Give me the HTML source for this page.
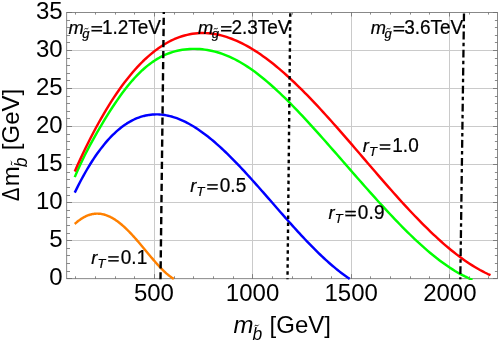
<!DOCTYPE html><html><head><meta charset="utf-8"><style>html,body{margin:0;padding:0;background:#fff;overflow:hidden}svg{display:block;will-change:transform}</style></head><body><svg width="498" height="343" viewBox="0 0 498 343">
<rect width="498" height="343" fill="#fff"/>
<path d="M154.50 12.50V278.70M252.50 12.50V278.70M351.50 12.50V278.70M449.50 12.50V278.70M66.70 240.50H497.50M66.70 202.50H497.50M66.70 164.50H497.50M66.70 126.50H497.50M66.70 88.50H497.50M66.70 50.50H497.50" stroke="#cacaca" stroke-width="1" fill="none"/>
<rect x="66.70" y="12.50" width="430.80" height="266.20" fill="none" stroke="#6c6c6c" stroke-width="0.8"/>
<clipPath id="c"><rect x="66.70" y="12.50" width="430.80" height="267.40"/></clipPath>
<g clip-path="url(#c)" fill="none" stroke-width="2.45" stroke-linejoin="round">
<path d="M74.75 223.98 L75.37 223.42 L76.00 222.87 L76.62 222.33 L77.24 221.82 L77.86 221.31 L78.49 220.83 L79.11 220.36 L79.73 219.90 L80.36 219.46 L80.98 219.04 L81.60 218.63 L82.23 218.24 L82.85 217.86 L83.47 217.50 L84.09 217.16 L84.72 216.83 L85.34 216.52 L85.96 216.23 L86.59 215.95 L87.21 215.68 L87.83 215.44 L88.46 215.20 L89.08 214.99 L89.70 214.79 L90.32 214.61 L90.95 214.44 L91.57 214.29 L92.19 214.15 L92.82 214.03 L93.44 213.93 L94.06 213.84 L94.68 213.77 L95.31 213.71 L95.93 213.67 L96.55 213.65 L97.18 213.64 L97.80 213.65 L98.42 213.67 L99.05 213.71 L99.67 213.76 L100.29 213.83 L100.91 213.91 L101.54 214.01 L102.16 214.12 L102.78 214.25 L103.41 214.39 L104.03 214.55 L104.65 214.73 L105.27 214.91 L105.90 215.12 L106.52 215.33 L107.14 215.56 L107.77 215.81 L108.39 216.07 L109.01 216.34 L109.64 216.63 L110.26 216.93 L110.88 217.24 L111.50 217.57 L112.13 217.91 L112.75 218.26 L113.37 218.63 L114.00 219.01 L114.62 219.40 L115.24 219.80 L115.87 220.22 L116.49 220.65 L117.11 221.09 L117.73 221.54 L118.36 222.01 L118.98 222.48 L119.60 222.97 L120.23 223.47 L120.85 223.98 L121.47 224.50 L122.09 225.03 L122.72 225.57 L123.34 226.12 L123.96 226.68 L124.59 227.25 L125.21 227.83 L125.83 228.42 L126.46 229.02 L127.08 229.63 L127.70 230.25 L128.32 230.87 L128.95 231.50 L129.57 232.14 L130.19 232.79 L130.82 233.45 L131.44 234.11 L132.06 234.78 L132.68 235.46 L133.31 236.14 L133.93 236.83 L134.55 237.52 L135.18 238.22 L135.80 238.93 L136.42 239.64 L137.05 240.36 L137.67 241.08 L138.29 241.80 L138.91 242.53 L139.54 243.26 L140.16 244.00 L140.78 244.73 L141.41 245.47 L142.03 246.22 L142.65 246.96 L143.28 247.71 L143.90 248.46 L144.52 249.21 L145.14 249.96 L145.77 250.71 L146.39 251.46 L147.01 252.21 L147.64 252.96 L148.26 253.71 L148.88 254.46 L149.50 255.20 L150.13 255.95 L150.75 256.69 L151.37 257.43 L152.00 258.16 L152.62 258.89 L153.24 259.62 L153.87 260.35 L154.49 261.07 L155.11 261.78 L155.73 262.49 L156.36 263.20 L156.98 263.89 L157.60 264.58 L158.23 265.27 L158.85 265.94 L159.47 266.61 L160.09 267.27 L160.72 267.93 L161.34 268.57 L161.96 269.20 L162.59 269.83 L163.21 270.44 L163.83 271.04 L164.46 271.63 L165.08 272.21 L165.70 272.78 L166.32 273.34 L166.95 273.88 L167.57 274.41 L168.19 274.92 L168.82 275.42 L169.44 275.91 L170.06 276.38 L170.69 276.84 L171.31 277.27 L171.93 277.70 L172.55 278.10 L173.18 278.49 L173.80 278.86" stroke="#ff8000"/>
<path d="M74.75 192.64 L76.48 189.09 L78.21 185.64 L79.94 182.28 L81.67 179.01 L83.40 175.83 L85.13 172.74 L86.85 169.74 L88.58 166.83 L90.31 164.01 L92.04 161.27 L93.77 158.62 L95.50 156.05 L97.23 153.57 L98.96 151.17 L100.69 148.86 L102.42 146.63 L104.15 144.48 L105.88 142.41 L107.61 140.42 L109.33 138.51 L111.06 136.69 L112.79 134.93 L114.52 133.26 L116.25 131.66 L117.98 130.14 L119.71 128.70 L121.44 127.33 L123.17 126.03 L124.90 124.81 L126.63 123.65 L128.36 122.57 L130.09 121.56 L131.82 120.63 L133.54 119.75 L135.27 118.95 L137.00 118.22 L138.73 117.55 L140.46 116.95 L142.19 116.41 L143.92 115.94 L145.65 115.54 L147.38 115.19 L149.11 114.91 L150.84 114.69 L152.57 114.53 L154.30 114.43 L156.02 114.39 L157.75 114.40 L159.48 114.48 L161.21 114.61 L162.94 114.80 L164.67 115.04 L166.40 115.34 L168.13 115.69 L169.86 116.09 L171.59 116.54 L173.32 117.05 L175.05 117.60 L176.78 118.21 L178.50 118.86 L180.23 119.56 L181.96 120.31 L183.69 121.10 L185.42 121.94 L187.15 122.83 L188.88 123.75 L190.61 124.72 L192.34 125.73 L194.07 126.79 L195.80 127.88 L197.53 129.01 L199.26 130.18 L200.98 131.39 L202.71 132.63 L204.44 133.91 L206.17 135.22 L207.90 136.57 L209.63 137.95 L211.36 139.37 L213.09 140.81 L214.82 142.29 L216.55 143.80 L218.28 145.33 L220.01 146.89 L221.74 148.48 L223.47 150.10 L225.19 151.74 L226.92 153.41 L228.65 155.10 L230.38 156.81 L232.11 158.54 L233.84 160.29 L235.57 162.07 L237.30 163.86 L239.03 165.67 L240.76 167.50 L242.49 169.34 L244.22 171.20 L245.95 173.08 L247.67 174.96 L249.40 176.86 L251.13 178.77 L252.86 180.70 L254.59 182.63 L256.32 184.57 L258.05 186.52 L259.78 188.47 L261.51 190.44 L263.24 192.40 L264.97 194.38 L266.70 196.35 L268.43 198.33 L270.15 200.31 L271.88 202.29 L273.61 204.28 L275.34 206.26 L277.07 208.24 L278.80 210.21 L280.53 212.19 L282.26 214.16 L283.99 216.12 L285.72 218.08 L287.45 220.04 L289.18 221.98 L290.91 223.92 L292.63 225.84 L294.36 227.76 L296.09 229.67 L297.82 231.56 L299.55 233.45 L301.28 235.31 L303.01 237.17 L304.74 239.01 L306.47 240.83 L308.20 242.64 L309.93 244.43 L311.66 246.20 L313.39 247.95 L315.12 249.68 L316.84 251.39 L318.57 253.08 L320.30 254.75 L322.03 256.39 L323.76 258.01 L325.49 259.61 L327.22 261.18 L328.95 262.72 L330.68 264.24 L332.41 265.72 L334.14 267.18 L335.87 268.61 L337.60 270.01 L339.32 271.38 L341.05 272.72 L342.78 274.02 L344.51 275.29 L346.24 276.53 L347.97 277.73 L349.70 278.89" stroke="#0000ff"/>
<path d="M74.75 177.14 L77.25 171.29 L79.75 165.73 L82.25 160.43 L84.76 155.33 L87.26 150.43 L89.76 145.68 L92.26 141.06 L94.76 136.56 L97.26 132.15 L99.77 127.84 L102.27 123.61 L104.77 119.46 L107.27 115.39 L109.77 111.41 L112.27 107.53 L114.78 103.74 L117.28 100.07 L119.78 96.50 L122.28 93.06 L124.78 89.74 L127.28 86.55 L129.78 83.49 L132.29 80.56 L134.79 77.77 L137.29 75.12 L139.79 72.60 L142.29 70.23 L144.79 67.99 L147.30 65.90 L149.80 63.94 L152.30 62.12 L154.80 60.44 L157.30 58.88 L159.80 57.46 L162.31 56.16 L164.81 54.98 L167.31 53.92 L169.81 52.98 L172.31 52.14 L174.81 51.40 L177.31 50.76 L179.82 50.22 L182.32 49.78 L184.82 49.42 L187.32 49.16 L189.82 48.97 L192.32 48.88 L194.83 48.86 L197.33 48.93 L199.83 49.07 L202.33 49.29 L204.83 49.60 L207.33 49.97 L209.83 50.43 L212.34 50.96 L214.84 51.57 L217.34 52.25 L219.84 53.02 L222.34 53.86 L224.84 54.79 L227.35 55.79 L229.85 56.87 L232.35 58.03 L234.85 59.27 L237.35 60.58 L239.85 61.98 L242.36 63.44 L244.86 64.98 L247.36 66.60 L249.86 68.28 L252.36 70.03 L254.86 71.85 L257.36 73.73 L259.87 75.67 L262.37 77.67 L264.87 79.73 L267.37 81.85 L269.87 84.01 L272.37 86.22 L274.88 88.49 L277.38 90.80 L279.88 93.15 L282.38 95.54 L284.88 97.98 L287.38 100.45 L289.89 102.96 L292.39 105.50 L294.89 108.07 L297.39 110.67 L299.89 113.31 L302.39 115.96 L304.89 118.65 L307.40 121.35 L309.90 124.08 L312.40 126.83 L314.90 129.59 L317.40 132.37 L319.90 135.17 L322.41 137.98 L324.91 140.80 L327.41 143.63 L329.91 146.47 L332.41 149.32 L334.91 152.18 L337.42 155.04 L339.92 157.90 L342.42 160.77 L344.92 163.63 L347.42 166.50 L349.92 169.36 L352.42 172.22 L354.93 175.08 L357.43 177.94 L359.93 180.78 L362.43 183.62 L364.93 186.46 L367.43 189.28 L369.94 192.09 L372.44 194.89 L374.94 197.67 L377.44 200.45 L379.94 203.20 L382.44 205.94 L384.94 208.66 L387.45 211.36 L389.95 214.03 L392.45 216.69 L394.95 219.32 L397.45 221.92 L399.95 224.50 L402.46 227.05 L404.96 229.56 L407.46 232.05 L409.96 234.50 L412.46 236.92 L414.96 239.30 L417.47 241.64 L419.97 243.94 L422.47 246.20 L424.97 248.41 L427.47 250.58 L429.97 252.71 L432.47 254.78 L434.98 256.80 L437.48 258.77 L439.98 260.69 L442.48 262.55 L444.98 264.35 L447.48 266.10 L449.99 267.78 L452.49 269.39 L454.99 270.95 L457.49 272.43 L459.99 273.84 L462.49 275.18 L465.00 276.45 L467.50 277.64 L470.00 278.76 L472.50 279.79" stroke="#00ff00"/>
<path d="M74.75 171.46 L77.36 165.60 L79.98 159.88 L82.59 154.29 L85.21 148.83 L87.82 143.50 L90.44 138.30 L93.05 133.23 L95.67 128.29 L98.28 123.49 L100.90 118.81 L103.51 114.27 L106.13 109.85 L108.74 105.57 L111.36 101.41 L113.97 97.38 L116.59 93.49 L119.20 89.72 L121.82 86.08 L124.43 82.56 L127.05 79.18 L129.66 75.92 L132.28 72.78 L134.89 69.77 L137.50 66.89 L140.12 64.13 L142.73 61.50 L145.35 58.99 L147.96 56.60 L150.58 54.33 L153.19 52.18 L155.81 50.15 L158.42 48.24 L161.04 46.45 L163.65 44.78 L166.27 43.22 L168.88 41.78 L171.50 40.45 L174.11 39.24 L176.73 38.14 L179.34 37.15 L181.96 36.27 L184.57 35.49 L187.19 34.83 L189.80 34.27 L192.42 33.82 L195.03 33.47 L197.64 33.23 L200.26 33.09 L202.87 33.04 L205.49 33.10 L208.10 33.25 L210.72 33.50 L213.33 33.84 L215.95 34.28 L218.56 34.81 L221.18 35.42 L223.79 36.13 L226.41 36.92 L229.02 37.79 L231.64 38.75 L234.25 39.79 L236.87 40.91 L239.48 42.11 L242.10 43.39 L244.71 44.74 L247.33 46.16 L249.94 47.66 L252.56 49.22 L255.17 50.86 L257.78 52.56 L260.40 54.33 L263.01 56.16 L265.63 58.05 L268.24 60.00 L270.86 62.01 L273.47 64.08 L276.09 66.21 L278.70 68.39 L281.32 70.62 L283.93 72.90 L286.55 75.23 L289.16 77.61 L291.78 80.03 L294.39 82.50 L297.01 85.01 L299.62 87.56 L302.24 90.15 L304.85 92.78 L307.47 95.44 L310.08 98.14 L312.69 100.87 L315.31 103.63 L317.92 106.42 L320.54 109.24 L323.15 112.09 L325.77 114.96 L328.38 117.86 L331.00 120.77 L333.61 123.71 L336.23 126.66 L338.84 129.63 L341.46 132.62 L344.07 135.61 L346.69 138.62 L349.30 141.65 L351.92 144.67 L354.53 147.71 L357.15 150.75 L359.76 153.80 L362.38 156.85 L364.99 159.89 L367.61 162.94 L370.22 165.98 L372.83 169.02 L375.45 172.06 L378.06 175.08 L380.68 178.10 L383.29 181.11 L385.91 184.10 L388.52 187.08 L391.14 190.04 L393.75 192.99 L396.37 195.92 L398.98 198.82 L401.60 201.71 L404.21 204.57 L406.83 207.41 L409.44 210.22 L412.06 213.00 L414.67 215.75 L417.29 218.47 L419.90 221.15 L422.52 223.80 L425.13 226.42 L427.75 228.99 L430.36 231.53 L432.97 234.02 L435.59 236.47 L438.20 238.88 L440.82 241.24 L443.43 243.56 L446.05 245.82 L448.66 248.03 L451.28 250.19 L453.89 252.30 L456.51 254.35 L459.12 256.34 L461.74 258.28 L464.35 260.15 L466.97 261.96 L469.58 263.71 L472.20 265.39 L474.81 267.00 L477.43 268.55 L480.04 270.03 L482.66 271.43 L485.27 272.76 L487.89 274.02 L490.50 275.20" stroke="#ff0000"/>
</g>
<g stroke="#000" stroke-width="2.4" fill="none">
<line x1="163.8" y1="12.00" x2="160.5" y2="279.30" stroke-dasharray="7.3 3.77" stroke-dashoffset="5.3"/>
<line x1="290.3" y1="12.20" x2="287.5" y2="279.30" stroke-dasharray="3.5 3.47" stroke-dashoffset="-1.15"/>
<line x1="464" y1="12.20" x2="460.3" y2="279.30" stroke-dasharray="7.8 3.3 3.5 3.45" stroke-dashoffset="-1.35" stroke-width="2.3"/>
</g>
<path d="M75.50 278.70v-2.40M75.50 12.50v2.10M95.50 278.70v-2.40M95.50 12.50v2.10M115.50 278.70v-2.40M115.50 12.50v2.10M134.50 278.70v-2.40M134.50 12.50v2.10M154.50 278.70v-4.60M154.50 12.50v4.00M174.50 278.70v-2.40M174.50 12.50v2.10M193.50 278.70v-2.40M193.50 12.50v2.10M213.50 278.70v-2.40M213.50 12.50v2.10M233.50 278.70v-2.40M233.50 12.50v2.10M252.50 278.70v-4.60M252.50 12.50v4.00M272.50 278.70v-2.40M272.50 12.50v2.10M292.50 278.70v-2.40M292.50 12.50v2.10M311.50 278.70v-2.40M311.50 12.50v2.10M331.50 278.70v-2.40M331.50 12.50v2.10M351.50 278.70v-4.60M351.50 12.50v4.00M370.50 278.70v-2.40M370.50 12.50v2.10M390.50 278.70v-2.40M390.50 12.50v2.10M410.50 278.70v-2.40M410.50 12.50v2.10M429.50 278.70v-2.40M429.50 12.50v2.10M449.50 278.70v-4.60M449.50 12.50v4.00M469.50 278.70v-2.40M469.50 12.50v2.10M488.50 278.70v-2.40M488.50 12.50v2.10M66.70 278.50h5.30M497.50 278.50h-4.50M66.70 271.50h3.30M497.50 271.50h-2.60M66.70 263.50h3.30M497.50 263.50h-2.60M66.70 255.50h3.30M497.50 255.50h-2.60M66.70 248.50h3.30M497.50 248.50h-2.60M66.70 240.50h5.30M497.50 240.50h-4.50M66.70 233.50h3.30M497.50 233.50h-2.60M66.70 225.50h3.30M497.50 225.50h-2.60M66.70 217.50h3.30M497.50 217.50h-2.60M66.70 210.50h3.30M497.50 210.50h-2.60M66.70 202.50h5.30M497.50 202.50h-4.50M66.70 195.50h3.30M497.50 195.50h-2.60M66.70 187.50h3.30M497.50 187.50h-2.60M66.70 179.50h3.30M497.50 179.50h-2.60M66.70 172.50h3.30M497.50 172.50h-2.60M66.70 164.50h5.30M497.50 164.50h-4.50M66.70 157.50h3.30M497.50 157.50h-2.60M66.70 149.50h3.30M497.50 149.50h-2.60M66.70 141.50h3.30M497.50 141.50h-2.60M66.70 134.50h3.30M497.50 134.50h-2.60M66.70 126.50h5.30M497.50 126.50h-4.50M66.70 118.50h3.30M497.50 118.50h-2.60M66.70 111.50h3.30M497.50 111.50h-2.60M66.70 103.50h3.30M497.50 103.50h-2.60M66.70 96.50h3.30M497.50 96.50h-2.60M66.70 88.50h5.30M497.50 88.50h-4.50M66.70 80.50h3.30M497.50 80.50h-2.60M66.70 73.50h3.30M497.50 73.50h-2.60M66.70 65.50h3.30M497.50 65.50h-2.60M66.70 58.50h3.30M497.50 58.50h-2.60M66.70 50.50h5.30M497.50 50.50h-4.50M66.70 42.50h3.30M497.50 42.50h-2.60M66.70 35.50h3.30M497.50 35.50h-2.60M66.70 27.50h3.30M497.50 27.50h-2.60M66.70 20.50h3.30M497.50 20.50h-2.60M66.70 12.50h5.30M497.50 12.50h-4.50" stroke="#6c6c6c" stroke-width="0.8" fill="none"/>
<g font-family="Liberation Sans, sans-serif" font-size="24" fill="#000">
<text x="62.6" y="285.40" text-anchor="end">0</text>
<text x="62.6" y="247.37" text-anchor="end">5</text>
<text x="62.6" y="209.34" text-anchor="end">10</text>
<text x="62.6" y="171.31" text-anchor="end">15</text>
<text x="62.6" y="133.28" text-anchor="end">20</text>
<text x="62.6" y="95.25" text-anchor="end">25</text>
<text x="62.6" y="57.22" text-anchor="end">30</text>
<text x="62.6" y="19.19" text-anchor="end">35</text>
<text x="153.90" y="301.0" text-anchor="middle">500</text>
<text x="252.55" y="301.0" text-anchor="middle">1000</text>
<text x="351.20" y="301.0" text-anchor="middle">1500</text>
<text x="449.85" y="301.0" text-anchor="middle">2000</text>
</g>
<g font-family="Liberation Sans, sans-serif" fill="#000">
<text x="233.6" y="333.2" font-size="24"><tspan font-style="italic">m</tspan><tspan font-style="italic" font-size="17.5" dy="6.7" dx="-1.0">b</tspan><tspan dy="-6.7" dx="0.6" font-size="24"> [GeV]</tspan></text>
<path transform="translate(256.60 325.50) rotate(0)" d="M-1.90 0.45q0.95 -1.50 1.90 -0.45t1.90 -0.45" fill="none" stroke="#000" stroke-width="1.00" stroke-linecap="round"/>
<text transform="translate(18.7 201.0) rotate(-90)" font-size="24" textLength="13.4" lengthAdjust="spacingAndGlyphs">Δ</text>
<text transform="translate(18.7 186.2) rotate(-90)" font-size="24">m<tspan font-style="italic" font-size="17.5" dy="8.1" dx="-1.0">b</tspan><tspan dy="-8.1" dx="0.6" font-size="24"> [GeV]</tspan></text>
<path transform="translate(11.50 163.20) rotate(-90)" d="M-1.90 0.45q0.95 -1.50 1.90 -0.45t1.90 -0.45" fill="none" stroke="#000" stroke-width="1.00" stroke-linecap="round"/>
<g stroke="#000" stroke-width="0.22">
<text x="68.59" y="34.00" font-size="18.3" font-style="italic">m</text>
<text x="82.37" y="37.70" font-size="13" font-style="italic">g</text>
<path transform="translate(86.40 28.70) rotate(0)" d="M-1.70 0.25q0.85 -0.83 1.70 -0.25t1.70 -0.25" fill="none" stroke="#000" stroke-width="0.90" stroke-linecap="round"/>
<rect x="91.70" y="26.12" width="10.3" height="1.35"/>
<rect x="91.70" y="30.02" width="10.3" height="1.35"/>
<text transform="translate(102.06 34.00) scale(1 1.06)" font-size="19" letter-spacing="-0.03">1.2TeV</text>
<text x="197.99" y="34.00" font-size="18.3" font-style="italic">m</text>
<text x="211.77" y="37.70" font-size="13" font-style="italic">g</text>
<path transform="translate(215.80 28.70) rotate(0)" d="M-1.70 0.25q0.85 -0.83 1.70 -0.25t1.70 -0.25" fill="none" stroke="#000" stroke-width="0.90" stroke-linecap="round"/>
<rect x="221.10" y="26.12" width="10.3" height="1.35"/>
<rect x="221.10" y="30.02" width="10.3" height="1.35"/>
<text transform="translate(231.46 34.00) scale(1 1.06)" font-size="19" letter-spacing="-0.03">2.3TeV</text>
<text x="370.69" y="34.00" font-size="18.3" font-style="italic">m</text>
<text x="384.47" y="37.70" font-size="13" font-style="italic">g</text>
<path transform="translate(388.50 28.70) rotate(0)" d="M-1.70 0.25q0.85 -0.83 1.70 -0.25t1.70 -0.25" fill="none" stroke="#000" stroke-width="0.90" stroke-linecap="round"/>
<rect x="393.80" y="26.12" width="10.3" height="1.35"/>
<rect x="393.80" y="30.02" width="10.3" height="1.35"/>
<text transform="translate(404.16 34.00) scale(1 1.06)" font-size="19" letter-spacing="-0.03">3.6TeV</text>
<text x="362.79" y="152.20" font-size="18.3" font-style="italic">r</text>
<text x="369.03" y="155.90" font-size="13" font-style="italic">T</text>
<rect x="379.90" y="144.32" width="10.3" height="1.35"/>
<rect x="379.90" y="148.22" width="10.3" height="1.35"/>
<text transform="translate(392.16 152.20) scale(1 1.06)" font-size="19" letter-spacing="0.15">1.0</text>
<text x="190.29" y="192.10" font-size="18.3" font-style="italic">r</text>
<text x="196.53" y="195.80" font-size="13" font-style="italic">T</text>
<rect x="207.40" y="184.22" width="10.3" height="1.35"/>
<rect x="207.40" y="188.12" width="10.3" height="1.35"/>
<text transform="translate(219.66 192.10) scale(1 1.06)" font-size="19" letter-spacing="0.15">0.5</text>
<text x="328.39" y="218.80" font-size="18.3" font-style="italic">r</text>
<text x="334.63" y="222.50" font-size="13" font-style="italic">T</text>
<rect x="345.50" y="210.93" width="10.3" height="1.35"/>
<rect x="345.50" y="214.82" width="10.3" height="1.35"/>
<text transform="translate(357.76 218.80) scale(1 1.06)" font-size="19" letter-spacing="0.15">0.9</text>
<text x="91.29" y="264.10" font-size="18.3" font-style="italic">r</text>
<text x="97.53" y="267.80" font-size="13" font-style="italic">T</text>
<rect x="108.40" y="256.23" width="10.3" height="1.35"/>
<rect x="108.40" y="260.12" width="10.3" height="1.35"/>
<text transform="translate(120.66 264.10) scale(1 1.06)" font-size="19" letter-spacing="0.15">0.1</text>
</g>
</g>
</svg></body></html>
